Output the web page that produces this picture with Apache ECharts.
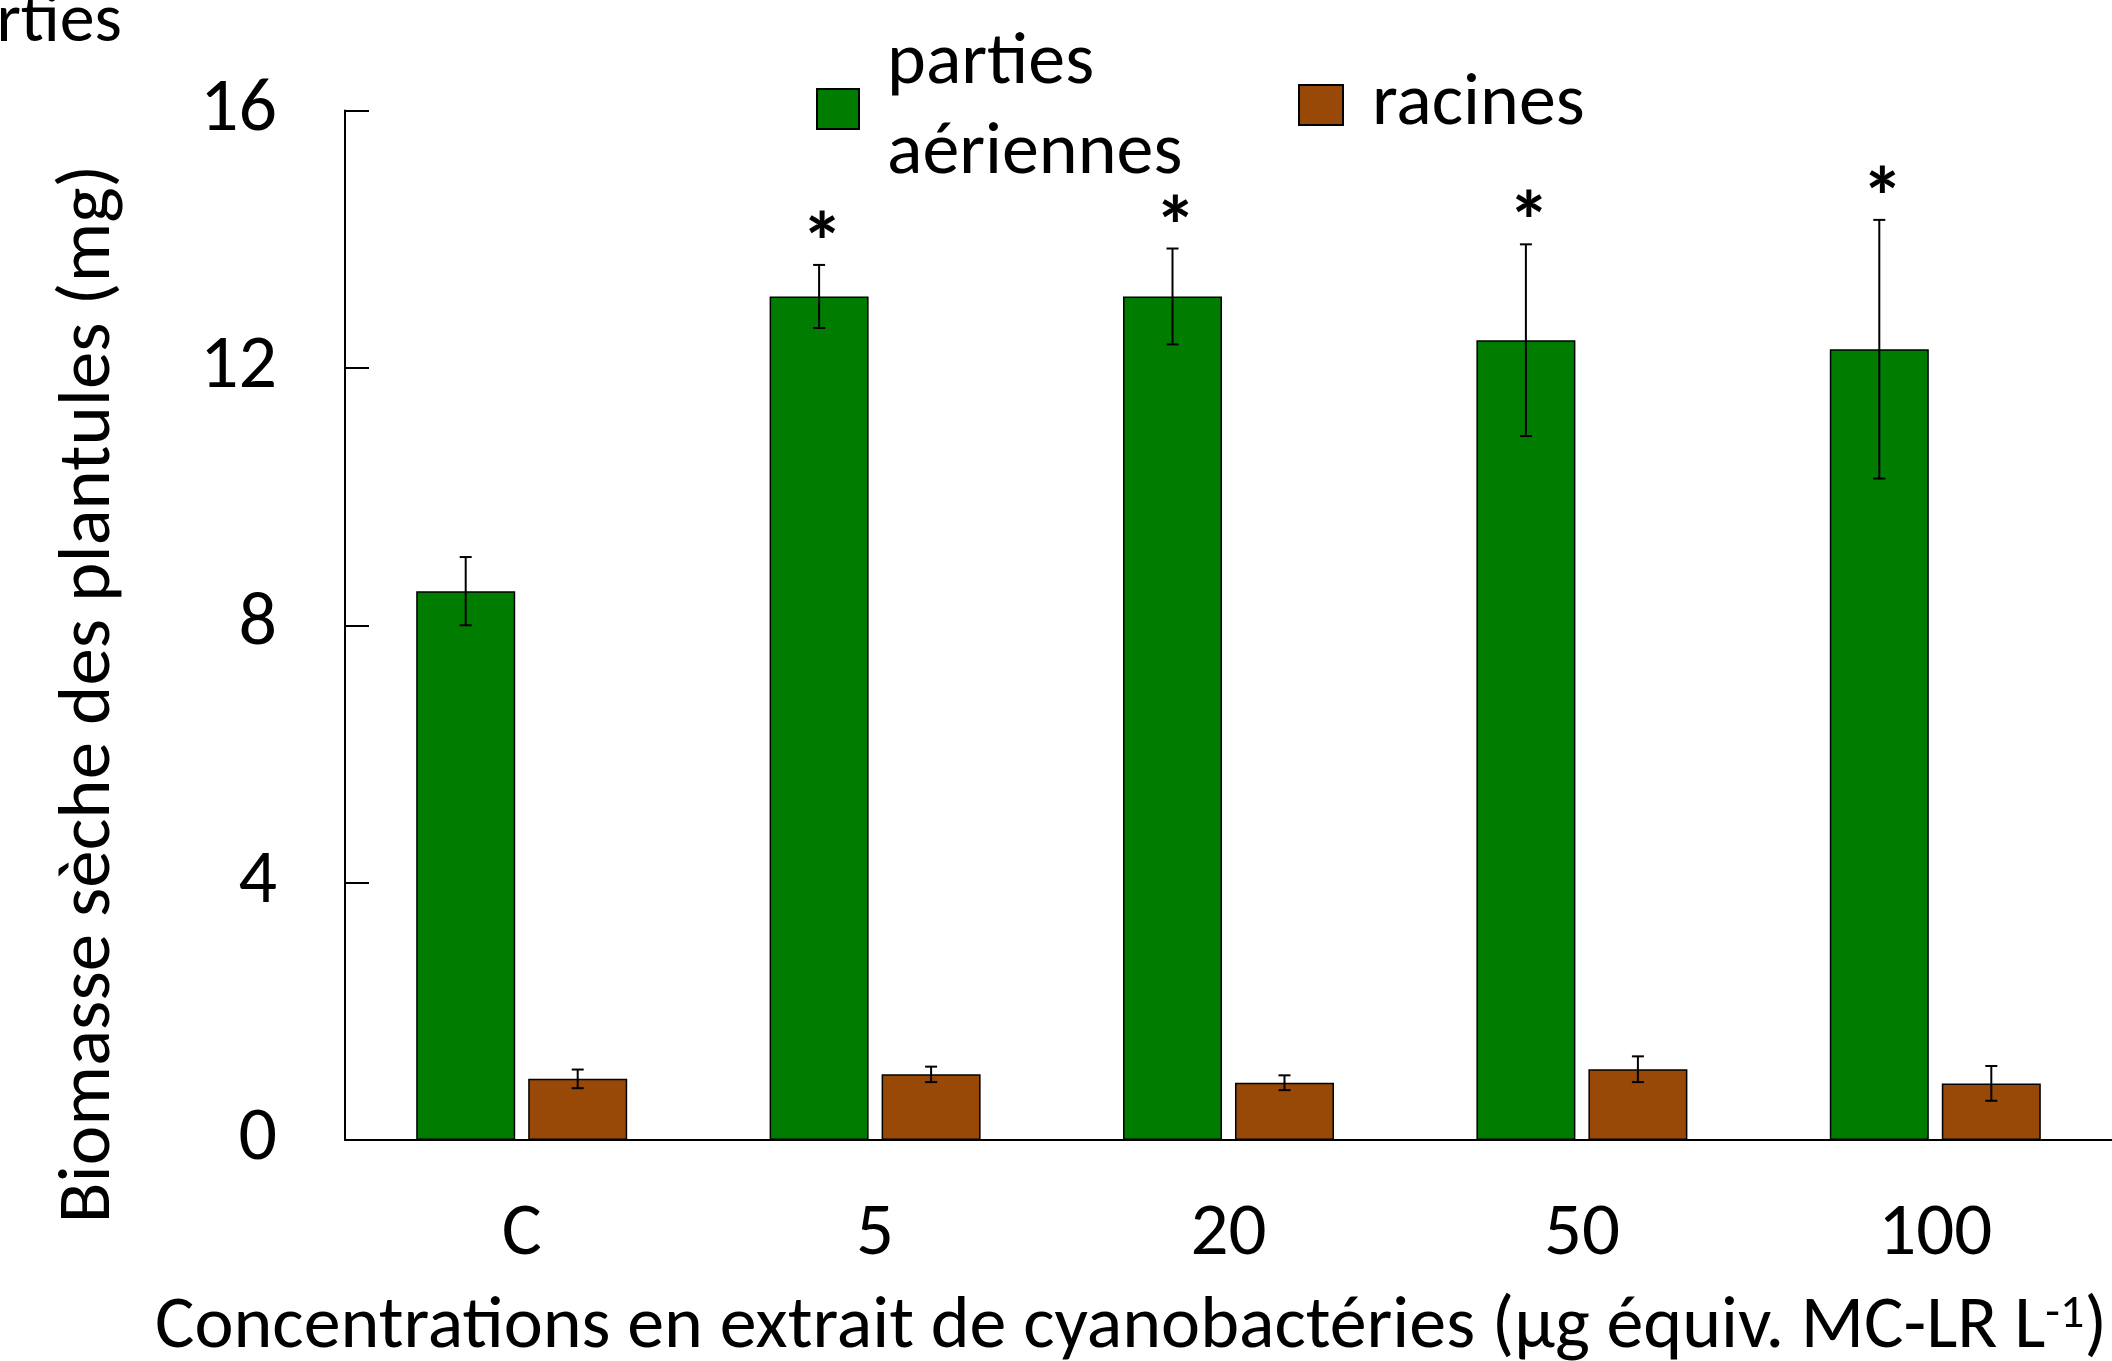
<!DOCTYPE html>
<html>
<head>
<meta charset="utf-8">
<script src="https://cdn.jsdelivr.net/npm/echarts@6/dist/echarts.min.js"></script>
<style>
  html, body { margin: 0; padding: 0; background: #fff; }
  #chart { width: 2112px; height: 1361px; }
</style>
</head>
<body>
<div id="chart"></div>
<script>
// concentrations (µg équiv. MC-LR L-1)
const categories = ['C', '5', '20', '50', '100']
// dry biomass (mg)
const aerial = [8.53, 13.11, 13.11, 12.43, 12.29]
const aerialErr = [0.53, 0.49, 0.745, 1.49, 2.01]
const roots = [0.95, 1.02, 0.89, 1.10, 0.88]
const rootsErr = [0.145, 0.12, 0.115, 0.20, 0.27]
const signif = ['', '*', '*', '*', '*']

const FONT = 'Carlito, Lato, sans-serif'
const GREEN = '#007d00'
const BROWN = '#984807'
const BAR_W = 99
const BAR_GAP = 13
const OFFSET = (BAR_W + BAR_GAP) / 2

function errorSeries(name, values, errs, marks, dx) {
  return {
    name: name + ' err',
    type: 'custom',
    clip: false,
    z: 5,
    silent: true,
    data: values.map((v, i) => [i, v, errs[i]]),
    encode: { x: 0, y: 1 },
    renderItem(params, api) {
      const i = api.value(0)
      const v = api.value(1)
      const e = api.value(2)
      const x = api.coord([i, v])[0] + dx
      const top = api.coord([i, v + e])[1]
      const bot = api.coord([i, v - e])[1]
      const ls = { stroke: '#000', lineWidth: 2 }
      const kids = [
        { type: 'line', shape: { x1: x, y1: top, x2: x, y2: bot }, style: ls },
        { type: 'line', shape: { x1: x - 6, y1: top, x2: x + 6, y2: top }, style: ls },
        { type: 'line', shape: { x1: x - 6, y1: bot, x2: x + 6, y2: bot }, style: ls }
      ]
      const mark = marks ? marks[params.dataIndex] : ''
      if (mark) {
        kids.push({
          type: 'text',
          style: {
            text: mark, x: x + 3, y: top - 15,
            align: 'center', verticalAlign: 'middle',
            fontFamily: FONT, fontWeight: 'bold', fontSize: 84, fill: '#000'
          }
        })
      }
      return { type: 'group', children: kids }
    }
  }
}

const chart = echarts.init(document.getElementById('chart'))
chart.setOption({
  backgroundColor: '#fff',
  animation: false,
  textStyle: { fontFamily: FONT },
  grid: { left: 345, right: -3, top: 110.5, bottom: 221 },
  legend: [
    {
      data: ['parties aériennes'],
      left: 816, top: 19, padding: 0,
      itemWidth: 42, itemHeight: 40,
      icon: 'rect',
      formatter: () => 'parties\naériennes',
      textStyle: { fontSize: 74, lineHeight: 90, color: '#000', padding: [0, 0, 0, 23] }
    },
    {
      data: ['racines'],
      left: 1298, top: 60, padding: 0,
      itemWidth: 44, itemHeight: 40,
      icon: 'rect',
      textStyle: { fontSize: 74, lineHeight: 90, color: '#000', padding: [0, 0, 0, 24] }
    }
  ],
  xAxis: {
    type: 'category',
    data: categories,
    axisLine: { lineStyle: { color: '#000', width: 2 } },
    axisTick: { inside: true, length: 24, lineStyle: { color: '#000', width: 2 } },
    axisLabel: { fontSize: 75, color: '#000', margin: 58 },
    splitLine: { show: false }
  },
  yAxis: {
    type: 'value',
    min: 0,
    max: 16,
    interval: 4,
    axisLine: { show: true, lineStyle: { color: '#000', width: 2 } },
    axisTick: { show: true, inside: true, length: 24, lineStyle: { color: '#000', width: 2 } },
    axisLabel: { fontSize: 76, color: '#000', margin: 68 },
    splitLine: { show: false }
  },
  graphic: [
    {
      type: 'text',
      x: 90, y: 694,
      rotation: Math.PI / 2,
      style: {
        text: 'Biomasse sèche des plantules (mg)',
        align: 'center', verticalAlign: 'middle',
        fontFamily: FONT, fontSize: 75, fill: '#000'
      }
    },
    {
      type: 'text',
      x: 155, y: 1328,
      style: {
        text: '{a|Concentrations en extrait de cyanobactéries (µg équiv. MC-LR L}{s|-1}{a|)}',
        align: 'left', verticalAlign: 'middle',
        rich: {
          a: { fontFamily: FONT, fontSize: 74, color: '#000' },
          s: { fontFamily: FONT, fontSize: 48, color: '#000', verticalAlign: 'top', padding: [0, 0, 24, 0] }
        }
      }
    },
    {
      type: 'text',
      x: 122, y: 58,
      style: {
        text: 'parties',
        align: 'right', verticalAlign: 'bottom',
        fontFamily: FONT, fontSize: 70, fill: '#000'
      }
    }
  ],
  series: [
    {
      name: 'parties aériennes',
      type: 'bar',
      data: aerial,
      barWidth: BAR_W,
      barGap: (BAR_GAP / BAR_W * 100) + '%',
      itemStyle: { color: GREEN, borderColor: '#000', borderWidth: 1.5 }
    },
    {
      name: 'racines',
      type: 'bar',
      data: roots,
      barWidth: BAR_W,
      itemStyle: { color: BROWN, borderColor: '#000', borderWidth: 1.5 }
    },
    errorSeries('parties aériennes', aerial, aerialErr, signif, -OFFSET),
    errorSeries('racines', roots, rootsErr, null, OFFSET)
  ]
})
</script>
</body>
</html>
